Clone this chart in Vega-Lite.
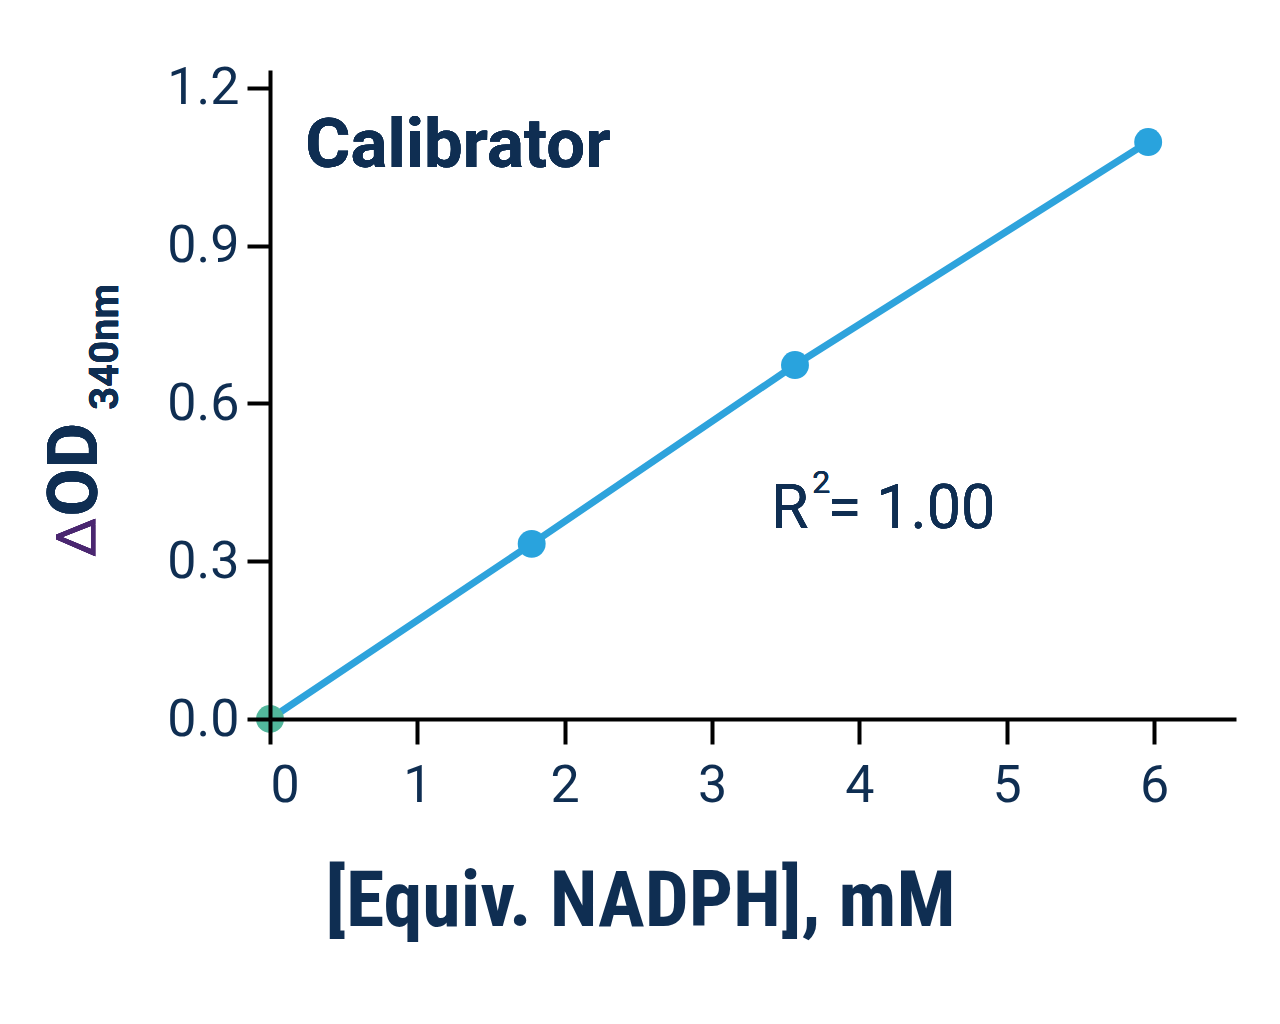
{
  "$schema": "https://vega.github.io/schema/vega-lite/v6.json",
  "description": "Calibrator standard curve: delta OD at 340 nm vs equivalent NADPH.",
  "autosize": {"type": "none"},
  "width": 966,
  "height": 649,
  "padding": {"left": 270, "top": 70, "right": 44, "bottom": 305},
  "background": "white",
  "data": {
    "values": [
      {"nadph": 0, "od": 0, "sample": "Blank"},
      {"nadph": 1.776, "od": 0.333, "sample": "Standard"},
      {"nadph": 3.563, "od": 0.673, "sample": "Standard"},
      {"nadph": 5.96, "od": 1.097, "sample": "Standard"}
    ]
  },
  "encoding": {
    "x": {
      "field": "nadph",
      "type": "quantitative",
      "scale": {"domain": [0, 6.556], "nice": false},
      "axis": {
        "values": [0, 1, 2, 3, 4, 5, 6],
        "grid": false,
        "zindex": 1,
        "domainColor": "black",
        "domainWidth": 4,
        "tickColor": "black",
        "tickWidth": 4,
        "tickSize": 25,
        "labelFont": "Roboto",
        "labelFontSize": 52,
        "labelColor": "#0f2e52",
        "labelPadding": 16,
        "title": "[Equiv. NADPH], mM",
        "titleFont": "Liberation Sans Narrow, Roboto Condensed, Roboto",
        "titleFontWeight": "bold",
        "titleFontSize": 78,
        "titleColor": "#0f2e52",
        "titleX": 370,
        "titleY": 206,
        "titleAlign": "center",
        "titleBaseline": "alphabetic"
      }
    },
    "y": {
      "field": "od",
      "type": "quantitative",
      "scale": {"domain": [0, 1.234], "nice": false},
      "axis": {
        "values": [0, 0.3, 0.6, 0.9, 1.2],
        "format": ".1f",
        "grid": false,
        "zindex": 1,
        "domainColor": "black",
        "domainWidth": 4,
        "tickColor": "black",
        "tickWidth": 4,
        "tickSize": 23,
        "labelFont": "Roboto",
        "labelFontSize": 52,
        "labelColor": "#0f2e52",
        "labelPadding": 8,
        "title": null
      }
    }
  },
  "layer": [
    {
      "mark": {"type": "line", "color": "#2ea3dc", "strokeWidth": 7}
    },
    {
      "mark": {"type": "circle", "opacity": 1, "size": 780},
      "encoding": {
        "color": {
          "field": "sample",
          "type": "nominal",
          "scale": {"domain": ["Blank", "Standard"], "range": ["#52b79c", "#29a3dd"]},
          "legend": null
        }
      }
    },
    {
      "mark": {"type": "text", "text": "Calibrator", "font": "Roboto", "fontWeight": "bold", "fontSize": 69, "color": "#0f2e52", "align": "left", "baseline": "alphabetic"},
      "encoding": {"x": {"datum": 0.24}, "y": {"datum": 1.05}}
    },
    {
      "mark": {"type": "text", "text": "R", "font": "Roboto", "fontSize": 61, "color": "#0f2e52", "align": "left", "baseline": "alphabetic"},
      "encoding": {"x": {"datum": 3.4}, "y": {"datum": 0.363}}
    },
    {
      "mark": {"type": "text", "text": "2", "font": "Roboto", "fontSize": 32, "color": "#0f2e52", "align": "left", "baseline": "alphabetic"},
      "encoding": {"x": {"datum": 3.68}, "y": {"datum": 0.43}}
    },
    {
      "mark": {"type": "text", "text": "= 1.00", "font": "Roboto", "fontSize": 61, "color": "#0f2e52", "align": "left", "baseline": "alphabetic"},
      "encoding": {"x": {"datum": 3.785}, "y": {"datum": 0.363}}
    },
    {
      "mark": {"type": "text", "text": "Δ", "font": "Roboto", "fontSize": 56, "color": "#4a2670", "angle": 270, "align": "left", "baseline": "alphabetic"},
      "encoding": {"x": {"datum": -1.181}, "y": {"datum": 0.308}}
    },
    {
      "mark": {"type": "text", "text": "OD", "font": "Roboto", "fontWeight": "bold", "fontSize": 70, "color": "#0f2e52", "angle": 270, "align": "left", "baseline": "alphabetic"},
      "encoding": {"x": {"datum": -1.174}, "y": {"datum": 0.385}}
    },
    {
      "mark": {"type": "text", "text": "340nm", "font": "Roboto", "fontWeight": "bold", "fontSize": 40, "color": "#0f2e52", "angle": 270, "align": "left", "baseline": "alphabetic"},
      "encoding": {"x": {"datum": -1.032}, "y": {"datum": 0.588}}
    }
  ],
  "config": {
    "view": {"stroke": null}
  }
}
